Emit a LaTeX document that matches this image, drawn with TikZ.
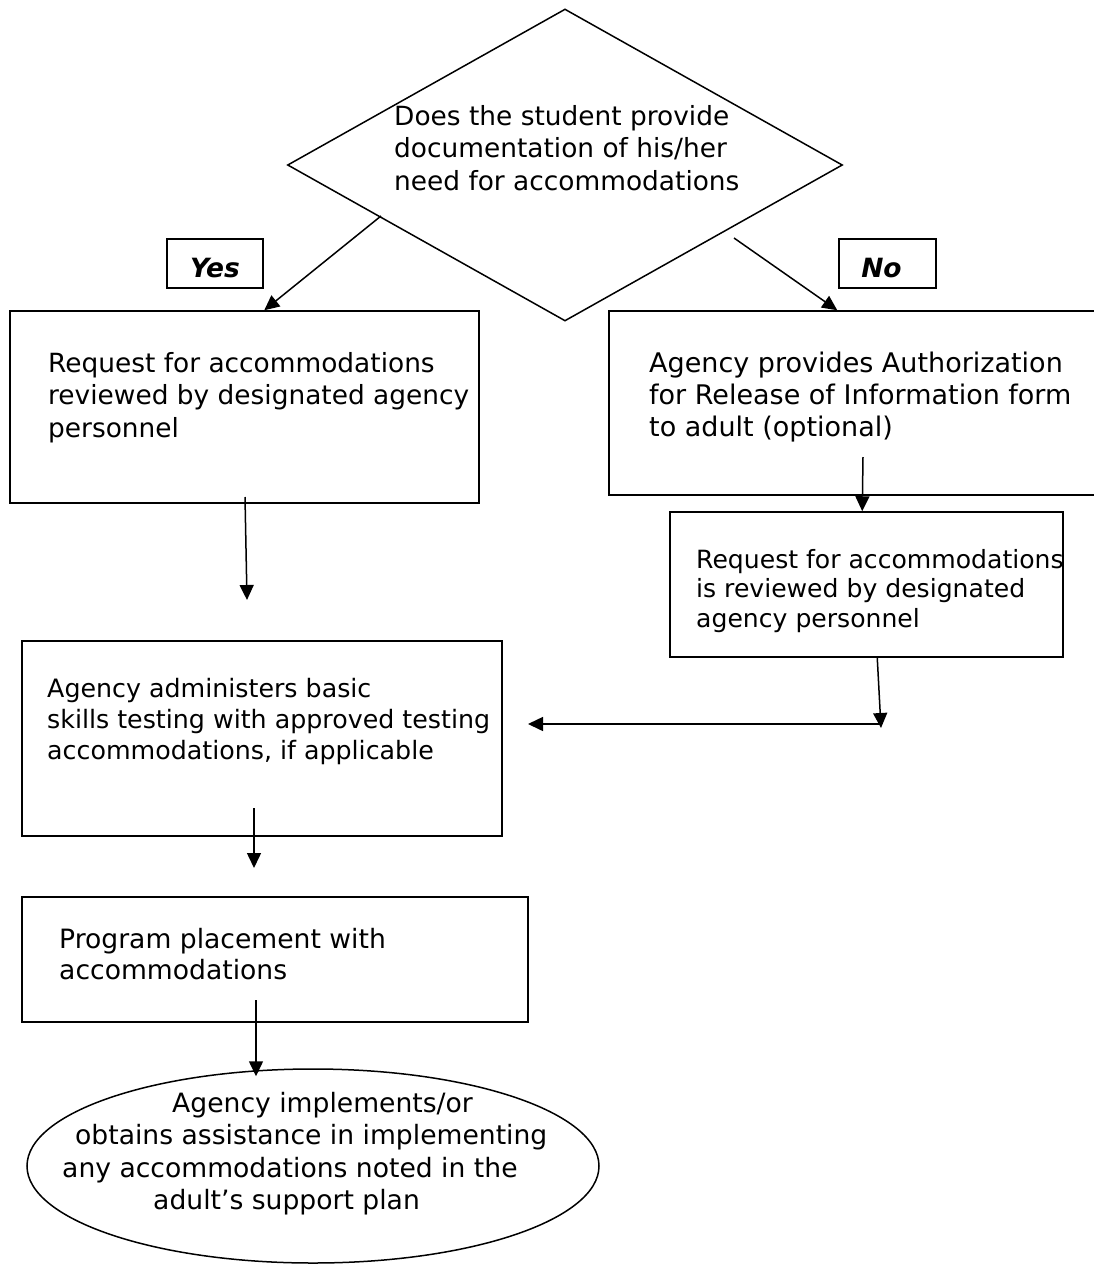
\documentclass[tikz,border=0pt]{standalone}
\usepackage{fontspec}
\setmainfont{DejaVu Sans}
\usetikzlibrary{arrows.meta,shapes.geometric}
\newcommand{\mylines}[1]{\begin{tabular}[t]{@{}l@{}}#1\end{tabular}}
\begin{document}
\begin{tikzpicture}[x=1pt,y=-1pt,
  lw/.style={line width=1.5pt},
  boxnode/.style={draw,lw,inner sep=0pt,rectangle},
  txt/.style={inner sep=0pt,anchor=base west,font=\fontsize{26.4}{32.5}\selectfont},
  lbl/.style={inner sep=0pt,anchor=base,font=\fontsize{26.5}{30}\selectfont\bfseries\itshape},
  arr/.style={lw,-{Triangle[length=15pt,width=14pt]}}]
\useasboundingbox (0,0) rectangle (1093,1267);
% shapes
\node[diamond,draw,lw,inner sep=0pt,minimum width=555pt,minimum height=312pt] (dec) at (565,165) {};
\node[boxnode,minimum width=96pt,minimum height=49pt] (yes) at (215,263.5) {};
\node[boxnode,minimum width=97pt,minimum height=49pt] (no) at (887.5,263.5) {};
\node[boxnode,minimum width=469pt,minimum height=192pt] (box1) at (244.5,407) {};
\node[boxnode,minimum width=501pt,minimum height=184pt] (box2) at (859.5,403) {};
\node[boxnode,minimum width=393pt,minimum height=145pt] (box3) at (866.5,584.5) {};
\node[boxnode,minimum width=480pt,minimum height=195pt] (box4) at (262,738.5) {};
\node[boxnode,minimum width=506pt,minimum height=125pt] (box5) at (275,959.5) {};
\node[ellipse,draw,lw,inner sep=0pt,minimum width=572pt,minimum height=194pt] (ell) at (313,1166) {};
% texts
\node[txt] (dect) at (394,125) {\mylines{Does the student provide\\documentation of his/her\\need for accommodations}};
\node[lbl] (yest) at (215,277) {Yes};
\node[lbl] (not) at (881.5,277) {No};
\node[txt] (t1) at (48,372) {\mylines{Request for accommodations\\reviewed by designated agency\\personnel}};
\node[txt,font=\fontsize{27}{32}\selectfont] (t2) at (649,372) {\mylines{Agency provides Authorization\\for Release of Information form\\to adult (optional)}};
\node[txt,font=\fontsize{25.1}{29.5}\selectfont] (t3) at (696,568) {\mylines{Request for accommodations\\is reviewed by designated\\agency personnel}};
\node[txt,font=\fontsize{25.3}{31}\selectfont] (t4) at (47,697) {\mylines{Agency administers basic\\skills testing with approved testing\\accommodations, if applicable}};
\node[txt,font=\fontsize{26.6}{31.5}\selectfont] (t5) at (59,948) {\mylines{Program placement with\\accommodations}};
\node[txt,font=\fontsize{26.6}{32.5}\selectfont] (t6) at (62,1112) {\mylines{\hspace*{110pt}Agency implements/or\\\hspace*{13pt}obtains assistance in implementing\\any accommodations noted in the\\\hspace*{91pt}adult’s support plan}};
% connectors
\coordinate (ys) at (381,216);
\draw[arr] (ys) -- ([xshift=255pt]box1.north west);
\coordinate (ns) at (734,238);
\draw[arr] (ns) -- ([xshift=229pt]box2.north west);
\coordinate (a1s) at (245,497);
\coordinate (a1e) at (247,600);
\draw[arr] (a1s) -- (a1e);
\coordinate (a2s) at (863,457);
\draw[arr] (a2s) -- ([xshift=193pt]box3.north west);
\coordinate (a3e) at (881,728);
\draw[arr] ([xshift=208pt]box3.south west) -- (a3e);
\coordinate (hs) at (880,724);
\coordinate (he) at (528,724);
\draw[arr] (hs) -- (he);
\coordinate (a4s) at (254,808);
\coordinate (a4e) at (254,868);
\draw[arr] (a4s) -- (a4e);
\coordinate (a5s) at (256,1000);
\draw[arr] (a5s) -- ([yshift=-8pt]ell.north -| a5s);
\end{tikzpicture}
\end{document}
